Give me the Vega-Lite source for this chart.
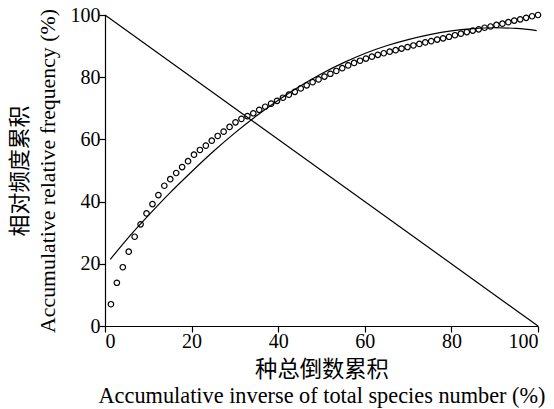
{
  "$schema": "https://vega.github.io/schema/vega-lite/v6.json",
  "autosize": "none",
  "width": 433,
  "height": 311,
  "padding": {"left": 105, "top": 15, "right": 16, "bottom": 83},
  "background": "white",
  "config": {
    "view": {"stroke": null},
    "font": "Liberation Serif, Noto Sans CJK SC",
    "axis": {
      "domainColor": "black",
      "domainWidth": 1.2,
      "tickColor": "black",
      "tickWidth": 1.2,
      "tickSize": 6,
      "grid": false,
      "labelFont": "Liberation Serif",
      "labelFontSize": 20,
      "labelColor": "black",
      "titleFont": "Liberation Serif, Noto Sans CJK SC",
      "titleFontSize": 22.3,
      "titleFontWeight": "normal",
      "titleColor": "black"
    }
  },
  "datasets": {
    "pts": [
      {"x": 1.37, "y": 7.0}, {"x": 2.74, "y": 13.9}, {"x": 4.11, "y": 18.9}, {"x": 5.48, "y": 23.9},
      {"x": 6.85, "y": 28.7}, {"x": 8.22, "y": 32.7}, {"x": 9.59, "y": 36.2}, {"x": 10.96, "y": 39.2},
      {"x": 12.33, "y": 42.1}, {"x": 13.70, "y": 45.1}, {"x": 15.07, "y": 47.2}, {"x": 16.44, "y": 49.2},
      {"x": 17.81, "y": 51.1}, {"x": 19.18, "y": 53.0}, {"x": 20.55, "y": 55.1}, {"x": 21.92, "y": 56.6},
      {"x": 23.29, "y": 58.0}, {"x": 24.66, "y": 59.6}, {"x": 26.03, "y": 61.1}, {"x": 27.40, "y": 62.5},
      {"x": 28.77, "y": 64.0}, {"x": 30.14, "y": 65.5}, {"x": 31.51, "y": 66.6}, {"x": 32.88, "y": 67.5},
      {"x": 34.25, "y": 68.4}, {"x": 35.62, "y": 69.5}, {"x": 36.99, "y": 70.5}, {"x": 38.36, "y": 71.5},
      {"x": 39.73, "y": 72.4}, {"x": 41.10, "y": 73.4}, {"x": 42.47, "y": 74.4}, {"x": 43.84, "y": 75.3},
      {"x": 45.21, "y": 76.4}, {"x": 46.58, "y": 77.4}, {"x": 47.95, "y": 78.4}, {"x": 49.32, "y": 79.3},
      {"x": 50.68, "y": 80.2}, {"x": 52.05, "y": 81.1}, {"x": 53.42, "y": 82.0}, {"x": 54.79, "y": 82.9},
      {"x": 56.16, "y": 83.8}, {"x": 57.53, "y": 84.6}, {"x": 58.90, "y": 85.3}, {"x": 60.27, "y": 86.0},
      {"x": 61.64, "y": 86.6}, {"x": 63.01, "y": 87.2}, {"x": 64.38, "y": 87.7}, {"x": 65.75, "y": 88.2},
      {"x": 67.12, "y": 88.7}, {"x": 68.49, "y": 89.2}, {"x": 69.86, "y": 89.7}, {"x": 71.23, "y": 90.2},
      {"x": 72.60, "y": 90.7}, {"x": 73.97, "y": 91.2}, {"x": 75.34, "y": 91.6}, {"x": 76.71, "y": 92.1},
      {"x": 78.08, "y": 92.5}, {"x": 79.45, "y": 93.0}, {"x": 80.82, "y": 93.5}, {"x": 82.19, "y": 94.0},
      {"x": 83.56, "y": 94.5}, {"x": 84.93, "y": 95.0}, {"x": 86.30, "y": 95.4}, {"x": 87.67, "y": 95.9},
      {"x": 89.04, "y": 96.3}, {"x": 90.41, "y": 96.8}, {"x": 91.78, "y": 97.2}, {"x": 93.15, "y": 97.7},
      {"x": 94.52, "y": 98.2}, {"x": 95.89, "y": 98.6}, {"x": 97.26, "y": 99.1}, {"x": 98.63, "y": 99.6},
      {"x": 100.0, "y": 100.0}
    ],
    "fit": [
      {"x": 1.2, "y": 21.4}, {"x": 5, "y": 27.8}, {"x": 10, "y": 35.5}, {"x": 15, "y": 42.8},
      {"x": 20, "y": 49.6}, {"x": 25, "y": 56.1}, {"x": 30, "y": 62.1}, {"x": 35, "y": 67.6},
      {"x": 40, "y": 72.6}, {"x": 45, "y": 77.1}, {"x": 50, "y": 81.1}, {"x": 55, "y": 84.6},
      {"x": 60, "y": 87.6}, {"x": 65, "y": 90.1}, {"x": 70, "y": 92.1}, {"x": 75, "y": 93.7},
      {"x": 80, "y": 94.9}, {"x": 85, "y": 95.6}, {"x": 90, "y": 95.9}, {"x": 95, "y": 95.7},
      {"x": 99.7, "y": 95.0}
    ],
    "diag": [
      {"x": 0, "y": 100}, {"x": 100, "y": 0}
    ]
  },
  "encoding": {
    "x": {
      "field": "x", "type": "quantitative",
      "scale": {"domain": [0, 100], "nice": false},
      "axis": {"values": [0, 20, 40, 60, 80, 100], "labelPadding": -1,
               "title": ["种总倒数累积", "Accumulative inverse of total species number (%)"],
               "titlePadding": 7, "titleLineHeight": 26,
               "encode": {"ticks": {"update": {"y2": {"value": -6}}}}}
    },
    "y": {
      "field": "y", "type": "quantitative",
      "scale": {"domain": [0, 100], "nice": false},
      "axis": {"values": [0, 20, 40, 60, 80, 100], "labelPadding": -1,
               "title": ["相对频度累积", "Accumulative relative frequency (%)"],
               "titleFontSize": 21.8,
               "titlePadding": 11, "titleLineHeight": 28,
               "encode": {"ticks": {"update": {"x2": {"value": 6}}}}}
    }
  },
  "layer": [
    {"data": {"name": "diag"}, "mark": {"type": "line", "color": "black", "strokeWidth": 1.2}},
    {"data": {"name": "fit"}, "mark": {"type": "line", "color": "black", "strokeWidth": 1.2, "interpolate": "monotone"}},
    {"data": {"name": "pts"}, "mark": {"type": "point", "shape": "circle", "filled": false, "color": "black", "strokeWidth": 1.2, "size": 30, "opacity": 1}}
  ]
}
